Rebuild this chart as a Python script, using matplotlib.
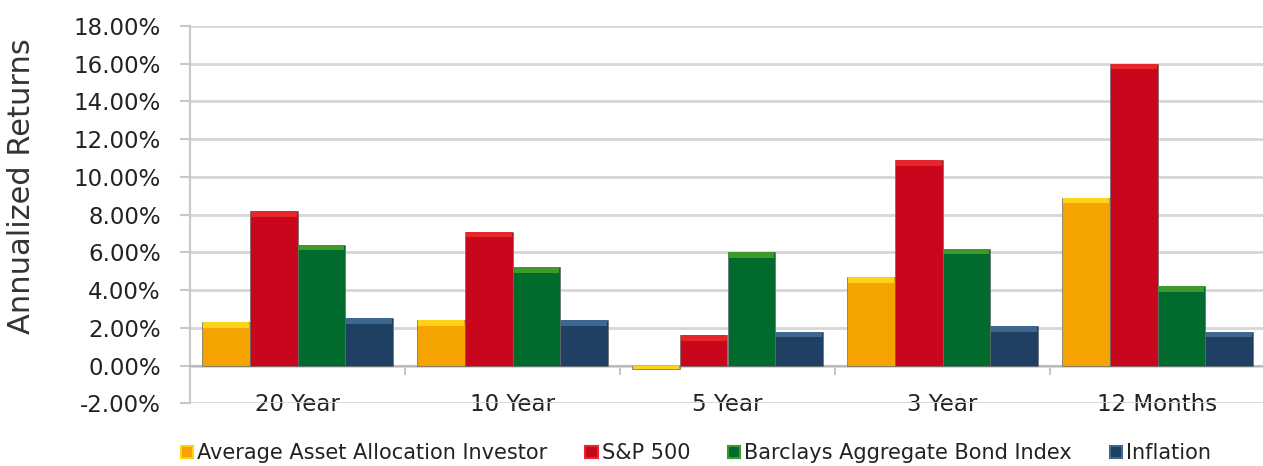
import matplotlib.pyplot as plt
import matplotlib.patches as mpatches
import numpy as np

periods = ['20 Year', '10 Year', '5 Year', '3 Year', '12 Months']
investor = [2.3, 2.4, -0.2, 4.7, 8.9]
sp500 = [8.2, 7.1, 1.6, 10.9, 16.0]
bonds = [6.4, 5.2, 6.0, 6.2, 4.2]
inflation = [2.5, 2.4, 1.8, 2.1, 1.8]
series_names = ['Average Asset Allocation Investor', 'S&P 500',
                'Barclays Aggregate Bond Index', 'Inflation']
yticks = np.arange(-2, 19, 2)

# body colour, top highlight colour
colors = [('#F4A300', '#FFD21A'), ('#C8071C', '#E5262B'),
          ('#006B2C', '#3E9A2C'), ('#1F3F63', '#3F6890')]

fig = plt.figure(figsize=(12.63, 4.66), dpi=100)
ax = fig.add_axes([190/1263, 1-403.3/466, 1075/1263, 377.3/466])

x = np.arange(len(periods))
w = 0.221
data = [investor, sp500, bonds, inflation]
handles = []
for i, (vals, (c, top)) in enumerate(zip(data, colors)):
    bars = ax.bar(x + (i - 1.5)*w, vals, w, color=c, edgecolor='#6a6a6a',
                  linewidth=0.5, zorder=3, label=series_names[i])
    handles.append(mpatches.Patch(facecolor=c, edgecolor=top, linewidth=1.5))
    # bevel highlight strip along the top of each bar
    for p in bars.patches:
        h = p.get_height()
        strip = min(0.3, abs(h))
        y0 = h - strip if h > 0 else h
        ax.add_patch(mpatches.Rectangle((p.get_x() + 0.004, y0), p.get_width() - 0.008,
                                        strip, color=top, zorder=4, linewidth=0))

ax.set_xlim(-0.5, 4.5)
ax.set_ylim(-2, 18)
ax.set_yticks(yticks)
ax.set_yticklabels(['%.2f%%' % v for v in yticks])
ax.yaxis.grid(True, color='#D6D6D6', linewidth=2)
ax.set_axisbelow(True)
ax.tick_params(axis='y', length=7, width=1.5, color='#C8C8C8', pad=14,
               labelsize=16.5, labelcolor='#222222')

ax.set_xticks(x)
ax.set_xticklabels(periods)
ax.set_xticks(x[:-1] + 0.5, minor=True)
ax.tick_params(axis='x', which='major', length=0, pad=20, labelsize=16.5, labelcolor='#222222')
ax.tick_params(axis='x', which='minor', length=6.5, width=1.2, color='#BBBBBB', direction='out')

ax.spines['top'].set_visible(False)
ax.spines['right'].set_visible(False)
ax.spines['bottom'].set_position(('data', 0))
ax.spines['bottom'].set_color('#BBBBBB')
ax.spines['bottom'].set_linewidth(1.5)
ax.spines['left'].set_color('#C8C8C8')
ax.spines['left'].set_linewidth(1.5)

fig.text(22/1263, 1-186/466, 'Annualized Returns', rotation=90, fontsize=22,
         color='#333333', ha='center', va='center')

fig.legend(handles, series_names, loc='center', bbox_to_anchor=(696/1263, 1-453/466),
           ncol=4, frameon=False, fontsize=15, handlelength=0.6, handleheight=0.5,
           handletextpad=0.2, columnspacing=1.8, labelcolor='#222222')

fig.savefig('out.png', dpi=100)
